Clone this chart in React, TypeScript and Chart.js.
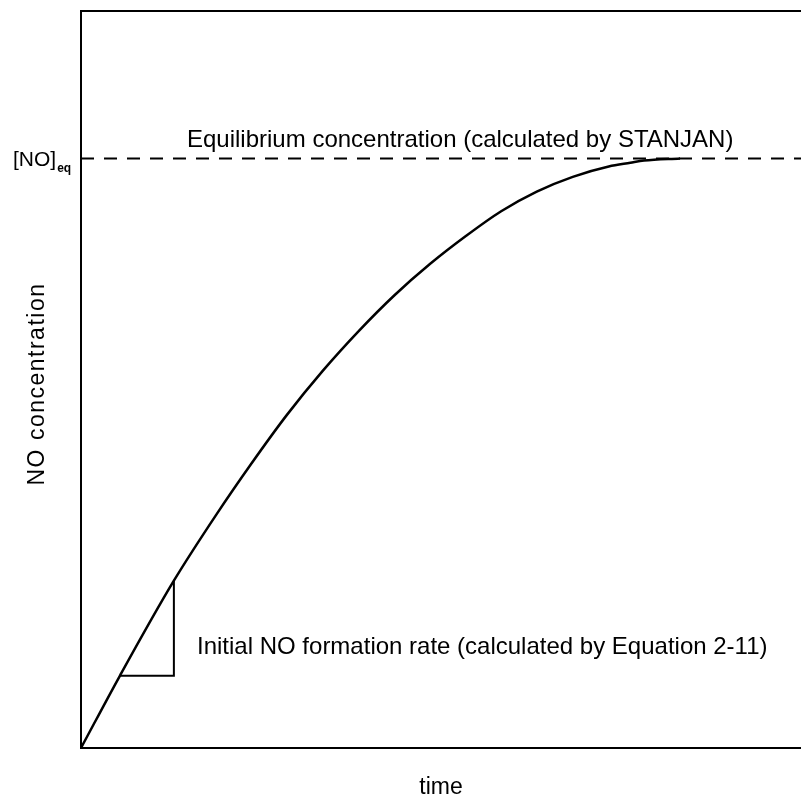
import { useEffect, useRef } from "react";
import { Chart, registerables } from "chart.js";

Chart.register(...registerables);

// NO concentration growth over time (arbitrary units, 0..100 on both axes)
const timeValues = [0, 5.4, 12.9, 18.75, 23.6, 28.6, 33.6, 38.6, 43.5, 48.5, 53.5, 58.3, 63.3, 68.3, 73.3, 76.3, 78.2, 83.2];
const noConcentration = [0, 9.8, 22.7, 31.6, 38.5, 45.2, 51.2, 56.6, 61.4, 65.7, 69.5, 72.8, 75.5, 77.5, 78.9, 79.4, 79.7, 80];

// equilibrium level and the initial-rate slope triangle
const equilibriumLevel = 80;
const equilibriumSpan = [0, 100];
const triangleX = [5.4, 12.9, 12.9];
const triangleY = [9.8, 9.8, 22.7];

const FONT = '"Liberation Sans", Arial, Helvetica, sans-serif';

const annotations = {
  id: "annotations",
  afterDraw(chart: any) {
    const { ctx, chartArea, scales } = chart;
    const y = scales.y;
    ctx.save();
    // top frame line
    ctx.strokeStyle = "#000";
    ctx.lineWidth = 2;
    ctx.beginPath();
    ctx.moveTo(chartArea.left - 1, chartArea.top);
    ctx.lineTo(chartArea.right, chartArea.top);
    ctx.stroke();

    ctx.fillStyle = "#000";
    ctx.textBaseline = "alphabetic";
    ctx.textAlign = "left";
    ctx.font = `24px ${FONT}`;
    const eqPx = y.getPixelForValue(equilibriumLevel);
    ctx.fillText("Equilibrium concentration (calculated by STANJAN)", 187, eqPx - 11);
    ctx.fillText("Initial NO formation rate (calculated by Equation 2-11)", 197, 654);

    // [NO]eq label on the axis
    ctx.font = `21px ${FONT}`;
    ctx.fillText("[NO]", 13, eqPx + 8);
    const w = ctx.measureText("[NO]").width;
    ctx.font = `bold 12px ${FONT}`;
    ctx.fillText("eq", 13 + w + 1, eqPx + 14);

    // axis titles
    ctx.font = `23px ${FONT}`;
    ctx.textAlign = "center";
    ctx.fillText("time", (chartArea.left + chartArea.right) / 2, 794);
    ctx.save();
    ctx.translate(44, 384);
    ctx.rotate(-Math.PI / 2);
    (ctx as any).letterSpacing = "1.5px";
    ctx.fillText("NO concentration", 0, 0);
    ctx.restore();
    ctx.restore();
  },
};

export default function App() {
  const ref = useRef<HTMLCanvasElement | null>(null);
  useEffect(() => {
    document.body.style.margin = "0";
    const canvas = ref.current!;
    const chart = new Chart(canvas, {
      type: "line",
      data: {
        datasets: [
          {
            data: equilibriumSpan.map((t) => ({ x: t, y: equilibriumLevel })),
            borderColor: "#000",
            borderWidth: 2,
            borderDash: [13, 10],
            pointRadius: 0,
          },
          {
            data: timeValues.map((t, i) => ({ x: t, y: noConcentration[i] })),
            borderColor: "#000",
            borderWidth: 2.5,
            pointRadius: 0,
            cubicInterpolationMode: "monotone",
          },
          {
            data: triangleX.map((t, i) => ({ x: t, y: triangleY[i] })),
            borderColor: "#000",
            borderWidth: 2,
            pointRadius: 0,
          },
        ],
      },
      options: {
        animation: false,
        responsive: false,
        events: [],
        layout: { padding: { left: 81, top: 11, bottom: 50, right: 0 } },
        plugins: { legend: { display: false }, tooltip: { enabled: false } },
        scales: {
          x: {
            type: "linear",
            min: 0,
            max: 100,
            grid: { display: false, drawTicks: false },
            ticks: { display: false },
            border: { display: true, color: "#000", width: 2 },
          },
          y: {
            type: "linear",
            min: 0,
            max: 100,
            grid: { display: false, drawTicks: false },
            ticks: { display: false },
            border: { display: true, color: "#000", width: 2 },
          },
        },
      },
      plugins: [annotations],
    });
    return () => chart.destroy();
  }, []);
  return (
    <div style={{ width: 801, height: 798, background: "#fff" }}>
      <canvas ref={ref} width={801} height={798} style={{ display: "block" }} />
    </div>
  );
}
